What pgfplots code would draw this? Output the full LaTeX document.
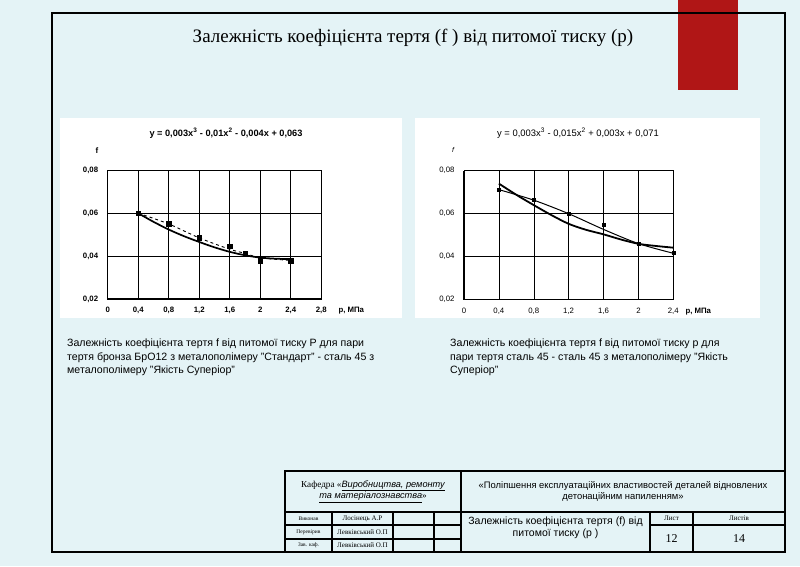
\documentclass[border=0pt]{standalone}
\usepackage{fontspec}
\setmainfont{Liberation Serif}
\setsansfont{Liberation Sans}
\usepackage{pgfplots}
\pgfplotsset{compat=1.18}
\definecolor{bg}{RGB}{228,243,246}
\definecolor{redbar}{RGB}{176,22,22}

\pgfplotsset{
  friction/.style={
    anchor=south west, scale only axis,
    ymin=0.02, ymax=0.08, xmin=0,
    scaled y ticks=false,
    ytick={0.02,0.04,0.06,0.08},
    yticklabels={{0,02},{0,04},{0,06},{0,08}},
    grid=major,
    major grid style={black, line width=0.5pt},
    axis line style={black, line width=0.5pt},
    major tick length=0pt,
    yticklabel style={xshift=-6pt},
    xticklabel style={yshift=-5pt},
    clip=false,
  }
}

\begin{document}
\begin{tikzpicture}[x=1pt,y=1pt]
\useasboundingbox (0,0) rectangle (800,-566);
\fill[bg] (0,0) rectangle (800,-566);
% chart panels
\fill[white] (60,-118) rectangle (402,-318);
\fill[white] (415,-118) rectangle (760,-318);
% red tab and frame
\fill[redbar] (678,0) rectangle (738,-90);
\draw[line width=1.6pt] (52,-13) rectangle (785,-552);

\node[font=\fontsize{19}{22}\selectfont] at (413,-38)
  {Залежність коефіцієнта тертя (f ) від питомої тиску (p)};

% left chart
\begin{axis}[friction,
  at={(107.7pt,-299pt)}, width=213.5pt, height=128.7pt,
  xmax=2.8,
  xtick={0,0.4,0.8,1.2,1.6,2,2.4,2.8},
  xticklabels={0,{0,4},{0,8},{1,2},{1,6},2,{2,4},{2,8}},
  ticklabel style={font=\sffamily\bfseries\fontsize{7.8}{9}\selectfont},
]
\addplot[black, line width=1.7pt, smooth] coordinates {
  (0.4,0.0600) (0.6,0.0560) (0.8,0.0524) (1.0,0.0493) (1.2,0.0466)
  (1.4,0.0441) (1.6,0.0420) (1.8,0.0404) (2.0,0.0393) (2.2,0.0388) (2.4,0.0386)};
\addplot[black, line width=0.9pt, dashed, smooth] coordinates {
  (0.4,0.0600) (0.8,0.0550) (1.2,0.0485) (1.6,0.0432) (1.8,0.0413) (2.0,0.0392) (2.4,0.0380)};
\addplot[only marks, mark=square*, mark size=2.2pt, black] coordinates {
  (0.4,0.0600) (0.8,0.0551) (1.2,0.0486) (1.6,0.0445) (1.8,0.0414) (2.0,0.0379) (2.4,0.0378)};
\draw[line width=1.5pt] (rel axis cs:0,1) -- (rel axis cs:0,0) -- (rel axis cs:1,0);
\end{axis}
\node[font=\sffamily\bfseries\fontsize{7.8}{9}\selectfont, anchor=west] at (335,-311) {p, МПа};
\node[font=\sffamily\bfseries\fontsize{8}{9}\selectfont] at (97,-151) {f};
\node[font=\sffamily\bfseries\fontsize{9.2}{11}\selectfont] at (226,-133)
  {y = 0,003x\textsuperscript{3} - 0,01x\textsuperscript{2} - 0,004x + 0,063};

% right chart
\begin{axis}[friction,
  at={(464pt,-299.7pt)}, width=209.3pt, height=129pt,
  xmax=2.4,
  xtick={0,0.4,0.8,1.2,1.6,2,2.4},
  xticklabels={0,{0,4},{0,8},{1,2},{1,6},2,{2,4}},
  ticklabel style={font=\sffamily\fontsize{7.8}{9}\selectfont},
]
\addplot[black, line width=1.0pt, smooth] coordinates {
  (0.4,0.0712) (0.8,0.0663) (1.2,0.0600) (1.6,0.0527) (2.0,0.0461) (2.4,0.0416)};
\addplot[black, line width=1.8pt, smooth] coordinates {
  (0.4,0.0740) (0.6,0.0688) (0.8,0.0640) (1.0,0.0594) (1.2,0.0553) (1.4,0.0525)
  (1.6,0.0504) (1.8,0.0480) (2.0,0.0460) (2.2,0.0450) (2.4,0.0442)};
\addplot[only marks, mark=square*, mark size=1.6pt, black] coordinates {
  (0.4,0.0713) (0.8,0.0665) (1.2,0.0600) (1.6,0.0550) (2.0,0.0460) (2.4,0.0420)};
\draw[line width=1.5pt] (rel axis cs:0,1) -- (rel axis cs:0,0) -- (rel axis cs:1,0);
\end{axis}
\node[font=\sffamily\bfseries\fontsize{7.8}{9}\selectfont, anchor=west] at (682,-312) {p, МПа};
\node[font=\sffamily\itshape\fontsize{7}{8}\selectfont] at (453,-150) {f};
\node[font=\sffamily\fontsize{9.4}{11}\selectfont] at (578,-133)
  {y = 0,003x\textsuperscript{3} - 0,015x\textsuperscript{2} + 0,003x + 0,071};

% captions
\node[anchor=north west, inner sep=0pt, align=left, font=\sffamily\fontsize{10.6}{13.5}\selectfont] at (67,-339)
  {Залежність коефіцієнта тертя f від питомої тиску P для пари\\
   тертя бронза БрО12 з металополімеру "Стандарт" - сталь 45 з\\
   металополімеру "Якість Суперіор"};
\node[anchor=north west, inner sep=0pt, align=left, font=\sffamily\fontsize{10.6}{13.5}\selectfont] at (450,-339)
  {Залежність коефіцієнта тертя f від питомої тиску р для\\
   пари тертя сталь 45 - сталь 45 з металополімеру "Якість\\
   Суперіор"};

% title block
\draw[line width=1.2pt] (285,-471) rectangle (785,-552);
\draw[line width=1.6pt] (461,-471) -- (461,-552);
\draw[line width=1.2pt] (285,-512) -- (785,-512);
\draw[line width=1.2pt] (285,-525) -- (461,-525) (285,-539) -- (461,-539);
\draw[line width=1.2pt] (332,-512) -- (332,-552) (393,-512) -- (393,-552) (434,-512) -- (434,-552);
\draw[line width=1.2pt] (650,-512) -- (650,-552) (693,-512) -- (693,-552) (650,-525) -- (785,-525);

\node[font=\fontsize{9.2}{11.5}\selectfont, align=center] at (373,-491.5)
  {Кафедра «\textsf{\itshape\underline{Виробництва, ремонту}}\\
   \textsf{\itshape\underline{та матеріалознавства}}»};
\node[font=\sffamily\fontsize{9.4}{11.5}\selectfont, align=center] at (623,-491.5)
  {«Поліпшення експлуатаційних властивостей деталей відновлених\\
   детонаційним напиленням»};
\node[font=\sffamily\fontsize{10.5}{11.5}\selectfont, align=center] at (555.5,-528)
  {Залежність коефіцієнта тертя (f) від\\ питомої тиску (р )};
\node[font=\fontsize{5.5}{6}\selectfont] at (308.5,-518.5) {Виконав};
\node[font=\fontsize{5.5}{6}\selectfont] at (308.5,-532) {Перевірив};
\node[font=\fontsize{5.5}{6}\selectfont] at (308.5,-545.5) {Зав. каф.};
\node[font=\fontsize{7}{8}\selectfont] at (362.5,-518.5) {Лосінець А.Р};
\node[font=\fontsize{7}{8}\selectfont] at (362.5,-532) {Левківський О.П};
\node[font=\fontsize{7}{8}\selectfont] at (362.5,-545.5) {Левківський О.П};
\node[font=\fontsize{7}{8}\selectfont] at (671.5,-518.5) {Лист};
\node[font=\fontsize{7}{8}\selectfont] at (739,-518.5) {Листів};
\node[font=\fontsize{12}{13}\selectfont] at (671.5,-539) {12};
\node[font=\fontsize{12}{13}\selectfont] at (739,-539) {14};
\end{tikzpicture}
\end{document}
